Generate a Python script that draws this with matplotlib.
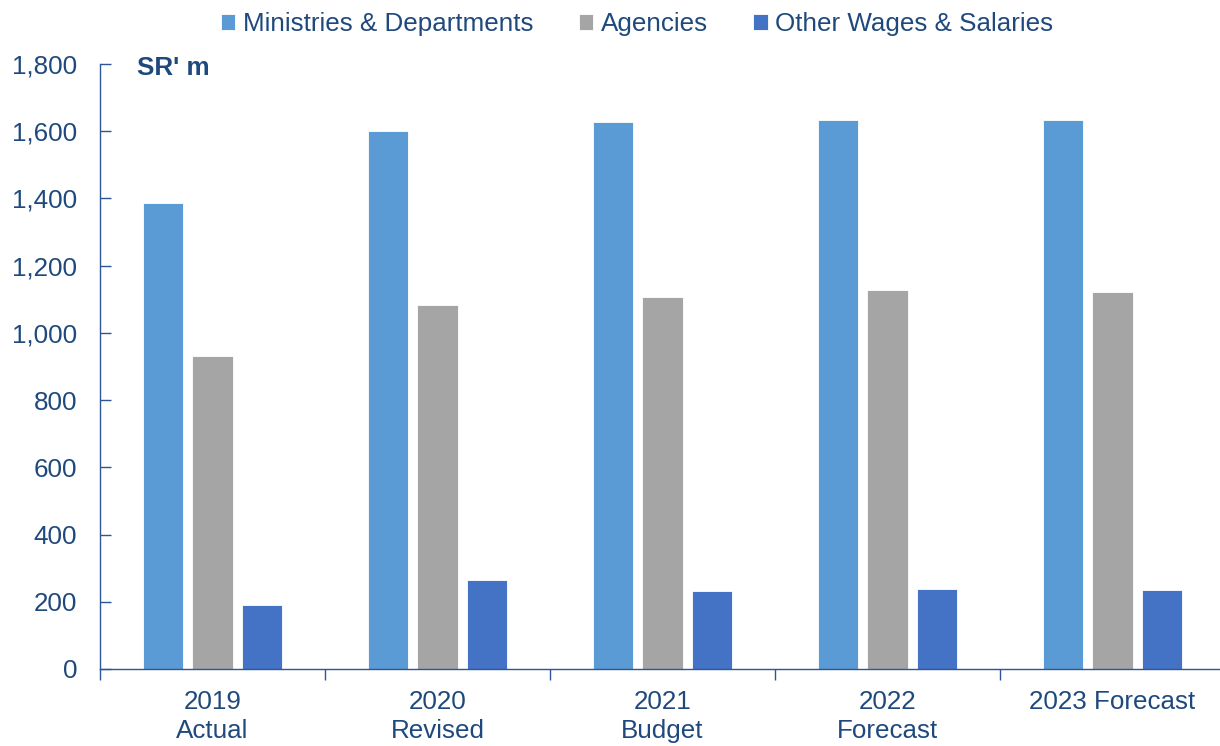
import matplotlib
matplotlib.use("Agg")
import matplotlib.pyplot as plt
import numpy as np
from matplotlib.ticker import FuncFormatter, FixedLocator

plt.rcParams['font.family'] = ['Liberation Sans', 'DejaVu Sans']

categories = ["2019\nActual", "2020\nRevised", "2021\nBudget", "2022\nForecast", "2023 Forecast"]
ministries = [1386, 1600, 1627, 1633, 1633]
agencies = [931, 1083, 1106, 1128, 1122]
other_wages = [190, 265, 233, 238, 236]
series_names = ["Ministries & Departments", "Agencies", "Other Wages & Salaries"]
colors = ["#5B9BD5", "#A5A5A5", "#4472C4"]
text_color = "#1F497D"
axis_color = "#2F5597"

W, H = 1220, 746
fig = plt.figure(figsize=(W / 100, H / 100), dpi=100)
ax = fig.add_axes([100 / W, 77 / H, 1125 / W, 605 / H])

x = np.arange(len(categories))
width = 0.178
offset = 0.222
for i, (vals, name, c) in enumerate(zip([ministries, agencies, other_wages], series_names, colors)):
    ax.bar(x + (i - 1) * offset, vals, width=width, color=c, label=name,
           edgecolor="white", linewidth=0.6, zorder=2)

ax.set_xlim(-0.5, 4.5)
ax.set_ylim(0, 1800)
ax.set_yticks(np.arange(0, 1801, 200))
ax.yaxis.set_major_formatter(FuncFormatter(lambda v, p: f"{int(v):,}"))
ax.tick_params(axis='y', direction='in', length=8, width=1, colors=axis_color,
               labelcolor=text_color, labelsize=18.7, pad=16.5)

# category boundaries as ticks, labels at centres
ax.xaxis.set_major_locator(FixedLocator(np.arange(-0.5, 4.6, 1.0)))
ax.xaxis.set_major_formatter(FuncFormatter(lambda v, p: ""))
ax.xaxis.set_minor_locator(FixedLocator(x))
ax.set_xticklabels(categories, minor=True)
ax.tick_params(axis='x', which='major', direction='out', length=8, width=1, colors=axis_color)
ax.tick_params(axis='x', which='minor', length=0, labelsize=18.7, labelcolor=text_color, pad=15)
for lbl in ax.get_xticklabels(minor=True):
    lbl.set_linespacing(1.27)

for s in ["top", "right"]:
    ax.spines[s].set_visible(False)
for s in ["left", "bottom"]:
    ax.spines[s].set_color(axis_color)
    ax.spines[s].set_linewidth(1)

ax.text(137 / W, 1 - 68 / H, "SR' m", transform=fig.transFigure, fontsize=18.7,
        fontweight='bold', color=text_color, va='center', ha='left')

leg = fig.legend(loc='center', bbox_to_anchor=(637 / W, 1 - 24 / H), ncol=3, frameon=False,
                 fontsize=18.7, handlelength=0.55, handleheight=0.55, handletextpad=0.3,
                 columnspacing=1.75, borderaxespad=0)
for t in leg.get_texts():
    t.set_color(text_color)

fig.savefig("out.png", dpi=100)
